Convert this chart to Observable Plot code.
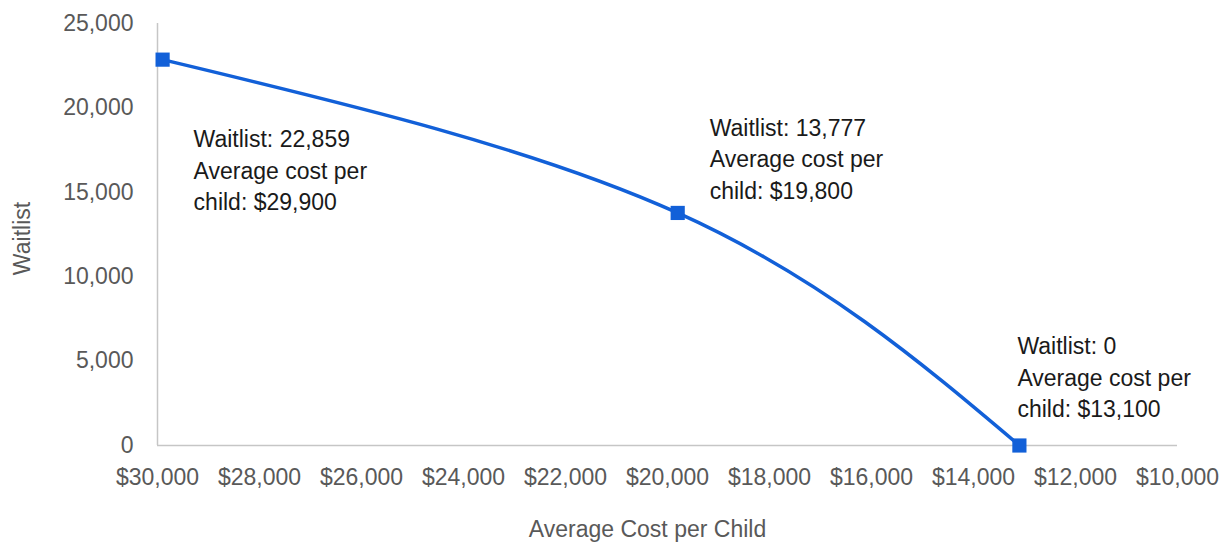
<!DOCTYPE html>
<html>
<head>
<meta charset="utf-8">
<script src="https://cdn.jsdelivr.net/npm/d3@7"></script>
<script src="https://cdn.jsdelivr.net/npm/@observablehq/plot@0.6"></script>
<style>
  html, body { margin: 0; padding: 0; background: #ffffff; }
  #chart svg { display: block; }
</style>
</head>
<body>
<div id="chart"></div>
<script>
// ---- data ----
const costs = [29900, 19800, 13100];
const waitlist = [22859, 13777, 0];
const labels = [
  "Waitlist: 22,859\nAverage cost per\nchild: $29,900",
  "Waitlist: 13,777\nAverage cost per\nchild: $19,800",
  "Waitlist: 0\nAverage cost per\nchild: $13,100"
];
const xTicks = [30000, 28000, 26000, 24000, 22000, 20000, 18000, 16000, 14000, 12000, 10000];
const yTicks = [0, 5000, 10000, 15000, 20000, 25000];
const xTitle = "Average Cost per Child";
const yTitle = "Waitlist";

// ---- build ----
const rows = costs.map((c, i) => ({cost: c, waitlist: waitlist[i], label: labels[i]}));
const labelOffsets = [[31, 109], [32, -56], [-2, -70]];
const blue = "#1260d8";
const axisGray = "#c6c6c6";
const textGray = "#595959";
const fmtDollar = d => "$" + d3.format(",")(d);

const annotationMarks = rows.map((r, i) => Plot.text([r], {
  x: "cost", y: "waitlist", text: "label",
  textAnchor: "start", lineAnchor: "middle", lineHeight: 1.37,
  dx: labelOffsets[i][0], dy: labelOffsets[i][1],
  fill: "#1a1a1a", fontSize: 23
}));

const chart = Plot.plot({
  width: 1223,
  height: 542,
  marginLeft: 157,
  marginRight: 46,
  marginTop: 23,
  marginBottom: 97,
  style: {fontFamily: "'Liberation Sans', Arial, sans-serif", fontSize: "23px", background: "#ffffff"},
  x: {domain: [30000, 10000], ticks: xTicks, tickFormat: fmtDollar},
  y: {domain: [0, 25000], ticks: yTicks, tickFormat: d3.format(",")},
  marks: [
    Plot.axisX({ticks: xTicks, tickFormat: fmtDollar, tickSize: 0, tickPadding: 23, label: null, color: textGray, fontSize: 23}),
    Plot.axisY({ticks: yTicks, tickFormat: d3.format(","), tickSize: 0, tickPadding: 24, label: null, color: textGray, fontSize: 23}),
    Plot.ruleY([0], {x1: 30000, x2: 10000, stroke: axisGray, strokeWidth: 1.5}),
    Plot.ruleX([30000], {y1: 0, y2: 25000, stroke: axisGray, strokeWidth: 1.5}),
    Plot.line(rows, {x: "cost", y: "waitlist", curve: "natural", stroke: blue, strokeWidth: 3.5}),
    Plot.dot(rows, {x: "cost", y: "waitlist", symbol: "square", r: 8, fill: blue, stroke: "none"}),
    ...annotationMarks,
    Plot.text([xTitle], {frameAnchor: "bottom", text: d => d, dx: -20, dy: 84, lineAnchor: "middle", fill: textGray, fontSize: 23}),
    Plot.text([yTitle], {frameAnchor: "left", text: d => d, rotate: -90, dx: -144, dy: 4, lineAnchor: "top", textAnchor: "middle", fill: textGray, fontSize: 23})
  ]
});
document.getElementById("chart").appendChild(chart);
</script>
</body>
</html>
